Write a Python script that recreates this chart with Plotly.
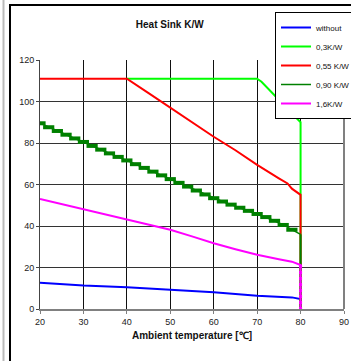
import plotly.graph_objects as go

names = ["without", "0,3K/W", "0,55 K/W", "0,90 K/W", "1,6K/W"]
colors = ["#0000FF", "#00FF00", "#FF0000", "#008000", "#FF00FF"]

x_without = [20, 30, 40, 50, 60, 70, 78, 80, 80]
y_without = [12.7, 11.3, 10.5, 9.2, 8.1, 6.4, 5.6, 4.8, 0]

x_03 = [40, 70, 71, 80, 80]
y_03 = [111, 111, 109.5, 90, 0]

x_055 = [20, 40, 45, 50, 55, 60, 65, 70, 75, 77, 78, 79.5, 80, 80]
y_055 = [111, 111, 104, 97, 90, 83, 76.5, 69.5, 63, 60.5, 58, 56, 55, 0]

x_090 = [20, 22, 24, 26, 28, 30, 32, 34, 36, 38, 40, 42, 44, 46, 48, 50,
         52, 54, 56, 58, 60, 62, 64, 66, 68, 70, 72, 74, 76, 78, 80]
y_090 = [89.5, 87.6, 85.8, 84, 82.2, 80.5, 78.6, 76.8, 75, 73.3, 71.6, 69.8,
         68, 66.2, 64.4, 62.6, 60.8, 59, 57.1, 55.2, 53.4, 51.8, 50.3, 48.8,
         47.3, 45.8, 44.3, 42.5, 40.5, 38.2, 36]
x_090_drop = [80, 80]
y_090_drop = [36, 0]

x_16 = [20, 25, 30, 35, 40, 45, 50, 55, 60, 65, 70, 75, 78, 80, 80]
y_16 = [53, 50.5, 48.2, 45.5, 43, 40.5, 38.2, 35, 31.7, 28.8, 26.1, 24, 22.8, 21.2, 0]

x_ticks = [20, 30, 40, 50, 60, 70, 80, 90]
y_ticks = [0, 20, 40, 60, 80, 100, 120]

fig = go.Figure()
fig.add_trace(go.Scatter(x=x_without, y=y_without, mode="lines", name=names[0],
                         line=dict(color=colors[0], width=2)))
fig.add_trace(go.Scatter(x=x_03, y=y_03, mode="lines", name=names[1],
                         line=dict(color=colors[1], width=2)))
fig.add_trace(go.Scatter(x=x_055, y=y_055, mode="lines", name=names[2],
                         line=dict(color=colors[2], width=2)))
fig.add_trace(go.Scatter(x=x_090, y=y_090, mode="lines", name=names[3],
                         line=dict(color=colors[3], width=1.5)))
fig.add_trace(go.Scatter(x=x_090[:-1], y=y_090[:-1], mode="markers", showlegend=False,
                         marker=dict(symbol="line-ew", size=8,
                                     line=dict(color=colors[3], width=4))))
fig.add_trace(go.Scatter(x=x_090_drop, y=y_090_drop, mode="lines", showlegend=False,
                         line=dict(color=colors[3], width=2)))
fig.add_trace(go.Scatter(x=x_16, y=y_16, mode="lines", name=names[4],
                         line=dict(color=colors[4], width=2)))
fig.add_trace(go.Scatter(x=x_16[-2:], y=y_16[-2:], mode="lines", showlegend=False,
                         line=dict(color=colors[4], width=3, dash="dot")))

L, R, T, B = 40, 7, 60, 52
W, H = 351, 361
pw = W - L - R
ph = H - T - B

def px(xp):
    return (xp - L) / pw

def py(yp):
    return (H - B - yp) / ph

fig.update_layout(
    width=W, height=H,
    margin=dict(l=L, r=R, t=T, b=B, autoexpand=False),
    paper_bgcolor="white", plot_bgcolor="white",
    font=dict(family="Arial, Liberation Sans, sans-serif", size=9, color="#222"),
    title=dict(text="<b>Heat Sink K/W</b>", x=px(187), xanchor="center",
               y=1 - 24 / H, yanchor="middle", font=dict(size=10, color="#111")),
    xaxis=dict(range=[20, 90], tickvals=x_ticks, showgrid=True, gridcolor="#111",
               gridwidth=1, zeroline=False, showline=True, linecolor="#808080",
               linewidth=2, mirror=False, ticks="outside", ticklen=3,
               tickcolor="#808080",
               title=dict(text="<b>Ambient temperature [℃]</b>", standoff=6,
                          font=dict(size=10, color="#111"))),
    yaxis=dict(range=[0, 120], tickvals=y_ticks, showgrid=True, gridcolor="#333",
               gridwidth=1, zeroline=False, showline=True, linecolor="#444",
               linewidth=1, ticks="outside", ticklen=3, tickcolor="#444"),
    legend=dict(x=px(275), y=py(12), xanchor="left", yanchor="top",
                bgcolor="white", bordercolor="black", borderwidth=1,
                font=dict(size=8, color="#111"), itemwidth=30,
                tracegroupgap=0),
    showlegend=True,
)

shapes = [
    dict(type="line", xref="paper", yref="paper", x0=px(3.5), x1=px(3.5),
         y0=py(-10), y1=py(H + 10), line=dict(color="#bbbbbb", width=2)),
    dict(type="rect", xref="paper", yref="paper", x0=px(10), x1=px(W + 20),
         y0=py(H + 20), y1=py(5), line=dict(color="black", width=2)),
    dict(type="line", xref="paper", yref="paper", x0=1, x1=1, y0=0, y1=1,
         line=dict(color="#808080", width=2)),
]
fig.update_layout(shapes=shapes)

fig.write_html("out.html")
